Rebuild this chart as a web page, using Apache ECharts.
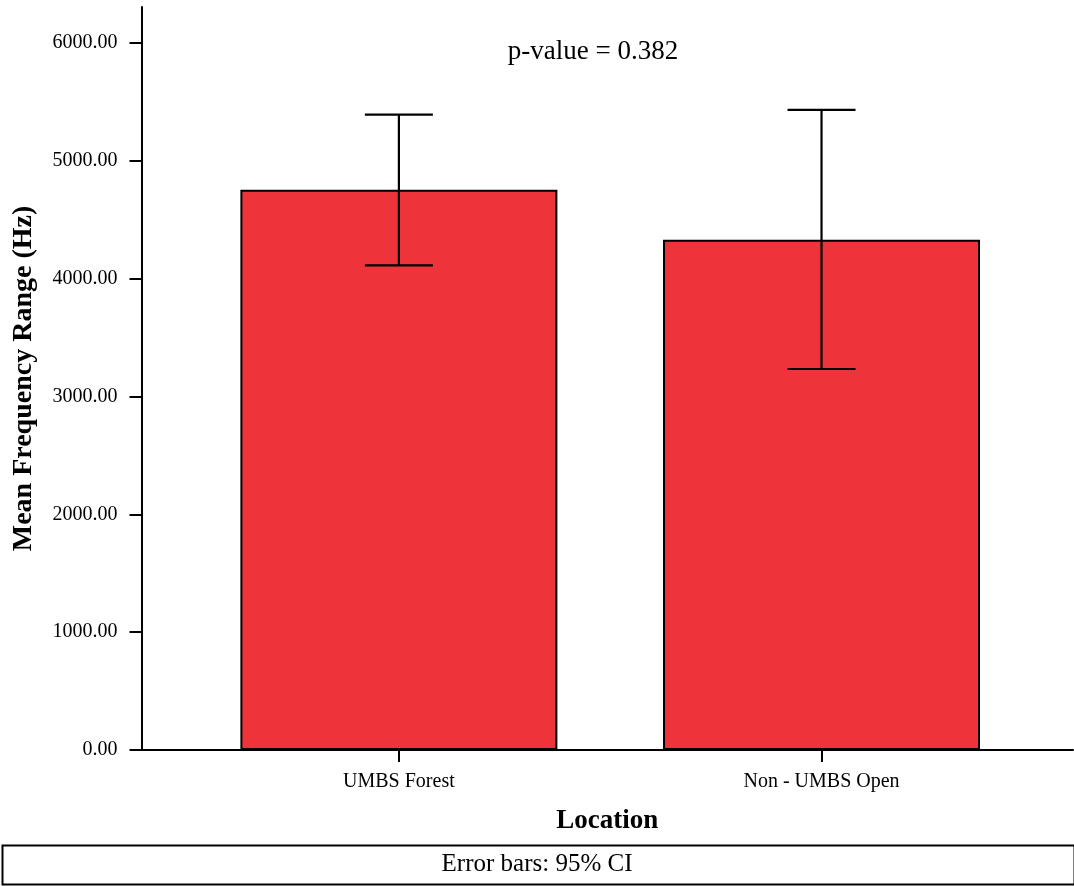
<!DOCTYPE html>
<html>
<head>
<meta charset="utf-8">
<title>Mean Frequency Range by Location</title>
<script src="https://cdn.jsdelivr.net/npm/echarts@6/dist/echarts.min.js"></script>
<style>
  html, body { margin: 0; padding: 0; background: #fff; }
  #chart { width: 1074px; height: 886px; }
</style>
</head>
<body>
<div id="chart"></div>
<script>
// Locations compared
const categories = ['UMBS Forest', 'Non - UMBS Open'];
// Mean frequency range (Hz) per location
const meanValues = [4756, 4332];
// 95% confidence interval bounds (Hz)
const ciLower = [4114, 3234];
const ciUpper = [5393, 5433];
// Y axis tick values
const yTicks = [0, 1000, 2000, 3000, 4000, 5000, 6000];
const pValueText = 'p-value = 0.382';
const footnote = 'Error bars: 95% CI';

const serif = '"Liberation Serif", "DejaVu Serif", serif';
const barColor = '#EF333A';

const chart = echarts.init(document.getElementById('chart'), null, { renderer: 'canvas' });

const barData = meanValues.map((v, i) => [i, v]);
const errData = categories.map((c, i) => [i, ciLower[i], ciUpper[i]]);

chart.setOption({
  backgroundColor: '#ffffff',
  animation: false,
  title: {
    text: pValueText,
    left: 588,
    top: 33,
    textAlign: 'center',
    textStyle: { fontFamily: serif, fontSize: 27, fontWeight: 'normal', color: '#000' }
  },
  grid: { left: 141.5, right: 1, top: 7, bottom: 136, containLabel: false },
  xAxis: {
    type: 'value',
    min: -0.609,
    max: 1.595,
    name: 'Location',
    nameLocation: 'middle',
    nameGap: 58,
    nameTextStyle: { fontFamily: serif, fontSize: 27, fontWeight: 'bold', color: '#000' },
    axisLine: { show: true, onZero: false, lineStyle: { color: '#000', width: 2 } },
    axisTick: { show: true, length: 12, lineStyle: { color: '#000', width: 2 }, customValues: [0, 1] },
    axisLabel: {
      margin: 22,
      customValues: [0, 1],
      formatter: v => categories[Math.round(v)],
      fontFamily: serif, fontSize: 20, color: '#000'
    },
    splitLine: { show: false }
  },
  yAxis: {
    type: 'value',
    min: 0,
    max: 6307,
    name: 'Mean Frequency Range (Hz)',
    nameLocation: 'middle',
    nameGap: 104,
    nameTextStyle: { fontFamily: serif, fontSize: 28, fontWeight: 'bold', color: '#000' },
    axisLine: { show: true, onZero: false, lineStyle: { color: '#000', width: 2 } },
    axisTick: { show: true, length: 12, lineStyle: { color: '#000', width: 2 }, customValues: yTicks },
    axisLabel: {
      margin: 24,
      customValues: yTicks,
      formatter: v => v.toFixed(2),
      fontFamily: serif, fontSize: 20, color: '#000'
    },
    splitLine: { show: false }
  },
  series: [
    {
      type: 'bar',
      data: barData,
      barWidth: 317,
      itemStyle: { color: barColor, borderColor: '#000', borderWidth: 2 },
      z: 2
    },
    {
      type: 'custom',
      data: errData,
      z: 5,
      renderItem: function (params, api) {
        const x = api.value(0);
        const lo = api.coord([x, api.value(1)]);
        const hi = api.coord([x, api.value(2)]);
        const half = 34;
        const style = { stroke: '#000', lineWidth: 2.2 };
        return {
          type: 'group',
          children: [
            { type: 'line', shape: { x1: hi[0], y1: hi[1], x2: lo[0], y2: lo[1] }, style: style },
            { type: 'line', shape: { x1: hi[0] - half, y1: hi[1], x2: hi[0] + half, y2: hi[1] }, style: style },
            { type: 'line', shape: { x1: lo[0] - half, y1: lo[1], x2: lo[0] + half, y2: lo[1] }, style: style }
          ]
        };
      }
    }
  ],
  graphic: [
    {
      type: 'rect',
      left: 0,
      top: 843,
      shape: { width: 1072, height: 39 },
      style: { fill: 'none', stroke: '#000', lineWidth: 2 }
    },
    {
      type: 'text',
      left: 'center',
      top: 852,
      style: { text: footnote, fontFamily: serif, fontSize: 25, fill: '#000' }
    }
  ]
});
</script>
</body>
</html>
